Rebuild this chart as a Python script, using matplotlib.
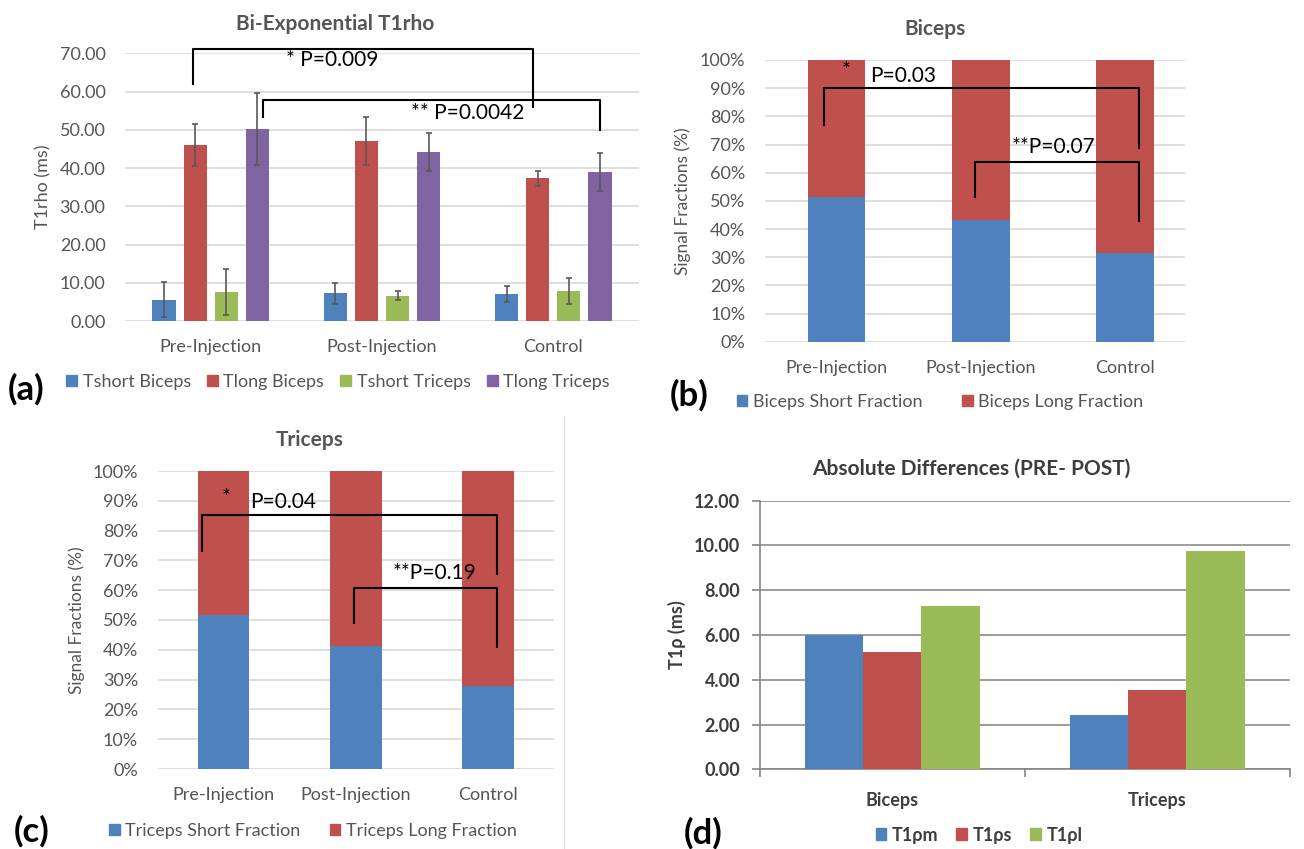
import matplotlib
matplotlib.use("Agg")
import matplotlib.pyplot as plt
import matplotlib.patches as mpatches
from matplotlib.lines import Line2D
import numpy as np

plt.rcParams['font.family'] = ['Lato', 'DejaVu Sans']

# ── Palette ──
BLUE = "#4F81BD"
RED = "#C0504D"
GREEN = "#9BBB59"
PURPLE = "#8064A2"
TXT = "#555555"
TXT_D = "#3D3D3D"
GRID = "#D9D9D9"

# ── Data ──
GROUPS = ["Pre-Injection", "Post-Injection", "Control"]

A_SERIES = ["Tshort Biceps", "Tlong Biceps", "Tshort Triceps", "Tlong Triceps"]
A_MEANS = [[5.6, 7.2, 7.0], [46.1, 47.1, 37.3], [7.6, 6.6, 7.9], [50.1, 44.2, 39.0]]
A_ERR = [[4.5, 2.7, 2.1], [5.5, 6.3, 2.0], [6.0, 1.2, 3.4], [9.4, 5.0, 4.9]]
A_YTICKS = [0, 10, 20, 30, 40, 50, 60, 70]
# bracket: x_left, x_right, y_bar, y_left_end, y_right_end
A_BRACKETS = [(-0.104, 1.88, 71.2, 62.1, 56.0), (0.303, 2.274, 57.9, 53.4, 49.9)]
A_PTEXT = [("* P=0.009", 0.71, 68.2), ("** P=0.0042", 1.50, 54.3)]

B_SERIES = ["Biceps Short Fraction", "Biceps Long Fraction"]
B_SHORT = [51.5, 43.1, 31.4]
B_BRACKETS = [(-0.086, 2.10, 89.9, 76.9, 68.9), (0.958, 2.10, 63.9, 51.2, 43.0)]
B_STAR = ("*", 0.069, 96.0)
B_PTEXT = [("P=0.03", 0.23, 94.3), ("**P=0.07", 1.214, 69.0)]

C_SERIES = ["Triceps Short Fraction", "Triceps Long Fraction"]
C_SHORT = [51.7, 41.3, 27.9]
C_BRACKETS = [(-0.16, 2.066, 85.2, 73.3, 65.3), (0.99, 2.066, 60.6, 48.9, 41.1)]
C_STAR = ("*", 0.02, 91.0)
C_PTEXT = [("P=0.04", 0.20, 89.5), ("**P=0.19", 1.276, 65.7)]

PCT_TICKS = [0, 10, 20, 30, 40, 50, 60, 70, 80, 90, 100]

D_GROUPS = ["Biceps", "Triceps"]
D_SERIES = ["T1ρm", "T1ρs", "T1ρl"]
D_VALUES = [[6.0, 2.41], [5.26, 3.54], [7.31, 9.75]]
D_YTICKS = [0, 2, 4, 6, 8, 10, 12]

W, H = 1304, 849
fig = plt.figure(figsize=(W / 100, H / 100), dpi=100)
fig.patch.set_facecolor("white")


def axes_px(x0, x1, ytop, ybot):
    return fig.add_axes([x0 / W, 1 - ybot / H, (x1 - x0) / W, (ybot - ytop) / H])


def excel_style(ax):
    for s in ax.spines.values():
        s.set_visible(False)
    ax.set_axisbelow(True)
    ax.yaxis.grid(True, color=GRID, linewidth=1.2)
    ax.tick_params(axis="both", length=0, labelsize=13, labelcolor=TXT)
    ax.tick_params(axis="y", pad=14)
    ax.tick_params(axis="x", pad=13)


def brackets(ax, specs):
    for x0, x1, yb, y0, y1 in specs:
        ax.plot([x0, x0, x1, x1], [y0, yb, yb, y1], color="black",
                linewidth=1.5, clip_on=False, zorder=6)


# ── (a) Bi-Exponential T1rho ──
ax = axes_px(125, 639, 53.3, 321)
excel_style(ax)
x = np.arange(len(GROUPS))
bw, step = 0.136, 0.181
colors_a = [BLUE, RED, GREEN, PURPLE]
for i, (name, m, e) in enumerate(zip(A_SERIES, A_MEANS, A_ERR)):
    ax.bar(x + (i - 1.5) * step, m, bw, yerr=e, color=colors_a[i], label=name,
           capsize=2.5, error_kw=dict(ecolor="#595959", elinewidth=1.2, capthick=1.2),
           zorder=3)
ax.set_xlim(-0.5, 2.5)
ax.set_ylim(0, 70)
ax.set_yticks(A_YTICKS)
ax.set_yticklabels([f"{t:.2f}" for t in A_YTICKS])
ax.set_xticks(x)
ax.set_xticklabels(GROUPS)
ax.set_ylabel("T1rho (ms)", fontsize=13, color=TXT, va="center")
ax.yaxis.set_label_coords(-0.158, 0.5)
ax.set_title("Bi-Exponential T1rho", fontsize=15, fontweight="bold",
             color=TXT, x=0.409, pad=17)
brackets(ax, A_BRACKETS)
for t, tx, ty in A_PTEXT:
    ax.text(tx, ty, t, ha="center", va="center", fontsize=15, color="black")
handles = [mpatches.Patch(color=c, label=n) for c, n in zip(colors_a, A_SERIES)]
fig.legend(handles=handles, loc="center", bbox_to_anchor=(338 / W, 1 - 382 / H),
           ncol=4, frameon=False, fontsize=13, handlelength=0.6, handleheight=0.6,
           handletextpad=0.3, columnspacing=0.9, labelcolor=TXT)


# ── (b)/(c) stacked fractions ──
def stacked(ax, short, names, title, tx, stars, ptexts, specs, xlim, bwid):
    excel_style(ax)
    long = [100 - s for s in short]
    xs = np.arange(len(GROUPS))
    ax.bar(xs, short, bwid, color=BLUE, label=names[0], zorder=3)
    ax.bar(xs, long, bwid, bottom=short, color=RED, label=names[1], zorder=3)
    ax.set_xlim(*xlim)
    ax.set_ylim(0, 100)
    ax.set_yticks(PCT_TICKS)
    ax.set_yticklabels([f"{t}%" for t in PCT_TICKS])
    ax.set_xticks(xs)
    ax.set_xticklabels(GROUPS)
    ax.set_title(title, fontsize=15, fontweight="bold", color=TXT, x=tx, pad=18)
    brackets(ax, specs)
    st, sx, sy = stars
    ax.text(sx, sy, st, ha="center", va="center", fontsize=15, color="black")
    for t, px, py in ptexts:
        ax.text(px, py, t, ha="left", va="center", fontsize=15, color="black")


ax = axes_px(764.6, 1185.4, 60, 341.7)
stacked(ax, B_SHORT, B_SERIES, "Biceps", 0.405, B_STAR, B_PTEXT, B_BRACKETS,
        (-0.5, 2.42), 0.40)
ax.set_ylabel("Signal Fractions (%)", fontsize=12.5, color=TXT, va="center")
ax.yaxis.set_label_coords(-0.194, 0.5)
fig.legend(handles=[mpatches.Patch(color=BLUE, label=B_SERIES[0]),
                    mpatches.Patch(color=RED, label=B_SERIES[1])],
           loc="center", bbox_to_anchor=(940 / W, 1 - 402 / H), ncol=2,
           frameon=False, fontsize=13, handlelength=0.6, handleheight=0.6,
           handletextpad=0.3, columnspacing=2.2, labelcolor=TXT)

ax = axes_px(157.5, 554, 471, 769)
stacked(ax, C_SHORT, C_SERIES, "Triceps", 0.384, C_STAR, C_PTEXT, C_BRACKETS,
        (-0.5, 2.5), 0.39)
ax.set_ylabel("Signal Fractions (%)", fontsize=12.5, color=TXT, va="center")
ax.yaxis.set_label_coords(-0.203, 0.5)
fig.legend(handles=[mpatches.Patch(color=BLUE, label=C_SERIES[0]),
                    mpatches.Patch(color=RED, label=C_SERIES[1])],
           loc="center", bbox_to_anchor=(313 / W, 1 - 830.7 / H), ncol=2,
           frameon=False, fontsize=13, handlelength=0.6, handleheight=0.6,
           handletextpad=0.3, columnspacing=1.6, labelcolor=TXT)

# ── (d) Absolute differences ──
ax = axes_px(759.6, 1289.6, 500.7, 769.3)
for s in ["top", "right"]:
    ax.spines[s].set_visible(False)
for s in ["left", "bottom"]:
    ax.spines[s].set_color("#868686")
    ax.spines[s].set_linewidth(1.2)
ax.set_axisbelow(True)
ax.yaxis.grid(True, color="#8C8C8C", linewidth=1.2)
xd = np.arange(len(D_GROUPS))
colors_d = [BLUE, RED, GREEN]
dbw = 0.22
for i, (name, vals) in enumerate(zip(D_SERIES, D_VALUES)):
    ax.bar(xd + (i - 1) * dbw, vals, dbw, color=colors_d[i], label=name, zorder=3)
ax.set_xlim(-0.5, 1.5)
ax.set_ylim(0, 12)
ax.set_yticks(D_YTICKS)
ax.set_yticklabels([f"{t:.2f}" for t in D_YTICKS], fontweight="bold")
ax.set_xticks(xd)
ax.set_xticklabels(D_GROUPS, fontweight="bold")
ax.set_xticks([-0.5, 0.5, 1.5], minor=True)
ax.tick_params(axis="x", which="major", length=0, pad=16, labelsize=13, labelcolor=TXT_D)
ax.tick_params(axis="x", which="minor", length=6, width=1.2, color="#868686")
ax.tick_params(axis="y", length=6, width=1.2, color="#868686", pad=8,
               labelsize=13, labelcolor=TXT_D)
ax.set_ylabel("T1ρ (ms)", fontsize=13, fontweight="bold", color=TXT_D, va="center")
ax.yaxis.set_label_coords(-0.156, 0.5)
ax.set_title("Absolute Differences (PRE- POST)", fontsize=15, fontweight="bold",
             color=TXT_D, x=0.40, pad=19)
fig.legend(handles=[mpatches.Patch(color=c, label=n) for c, n in zip(colors_d, D_SERIES)],
           loc="center", bbox_to_anchor=(979 / W, 1 - 835 / H), ncol=3,
           frameon=False, handlelength=0.6, handleheight=0.6,
           handletextpad=0.3, columnspacing=1.0, labelcolor=TXT_D,
           prop=dict(weight="bold", size=13))

# ── Panel letters & divider ──
for lab, lx, ly in [("(a)", 8, 389), ("(b)", 670, 395), ("(c)", 14, 831), ("(d)", 684, 833)]:
    fig.text(lx / W, 1 - ly / H, lab, fontsize=25, fontweight="bold",
             ha="left", va="center", color="black")
fig.add_artist(Line2D([564 / W, 564 / W], [0, 1 - 416 / H], transform=fig.transFigure,
                      color="#E3E3E3", linewidth=1))

fig.savefig("out.png", dpi=100, facecolor="white")
